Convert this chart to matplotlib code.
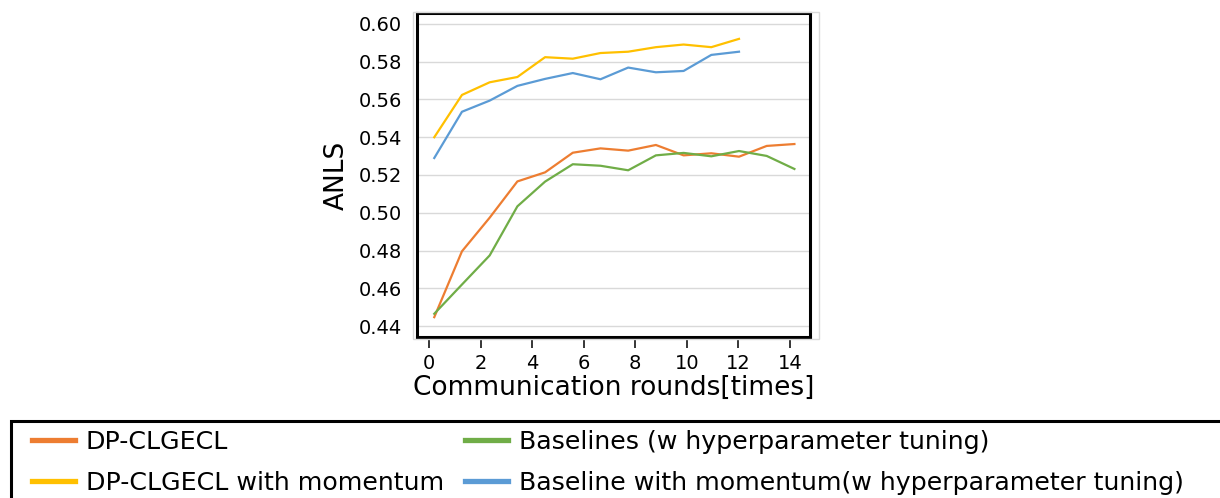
import matplotlib
matplotlib.use("Agg")
import matplotlib.pyplot as plt
from matplotlib.patches import Rectangle
from matplotlib.lines import Line2D

plt.rcParams['font.family'] = ['DejaVu Sans']

x14 = [0.2, 1.275, 2.35, 3.425, 4.5, 5.575, 6.65, 7.725, 8.8, 9.875, 10.95, 12.025, 13.1, 14.175]
x12 = x14[:12]

dp_clgecl = [0.4447, 0.4796, 0.4974, 0.5166, 0.5214, 0.5318, 0.5341, 0.5329, 0.5359, 0.5304, 0.5315, 0.5297, 0.5354, 0.5364]
baselines = [0.4465, 0.4620, 0.4774, 0.5034, 0.5165, 0.5257, 0.5249, 0.5225, 0.5304, 0.5317, 0.5299, 0.5327, 0.5301, 0.5232]
dp_clgecl_mom = [0.5400, 0.5624, 0.5691, 0.5719, 0.5824, 0.5816, 0.5846, 0.5853, 0.5877, 0.5891, 0.5877, 0.5921]
baseline_mom = [0.5290, 0.5535, 0.5594, 0.5672, 0.5709, 0.5740, 0.5707, 0.5769, 0.5744, 0.5751, 0.5836, 0.5853]

labels = ["DP-CLGECL", "DP-CLGECL with momentum",
          "Baselines (w hyperparameter tuning)",
          "Baseline with momentum(w hyperparameter tuning)"]
colors = ["#ED7D31", "#FFC000", "#70AD47", "#5B9BD5"]

yticks = [0.44, 0.46, 0.48, 0.50, 0.52, 0.54, 0.56, 0.58, 0.60]
xticks = [0, 2, 4, 6, 8, 10, 12, 14]

W, H = 1220, 498
fig = plt.figure(figsize=(W/100, H/100), dpi=100)
ax = fig.add_axes([417/W, 1-337/H, (810-417)/W, (337-13)/H])

# outer light frame
fig.patches.append(Rectangle((412.5/W, 1-338.5/H), (819-412.5)/W, (338.5-11.5)/H,
                             transform=fig.transFigure, fill=False,
                             edgecolor="#d9d9d9", linewidth=1.0, zorder=0))

ax.plot(x14, dp_clgecl, color=colors[0], lw=1.6)
ax.plot(x12, dp_clgecl_mom, color=colors[1], lw=1.6)
ax.plot(x14, baselines, color=colors[2], lw=1.6)
ax.plot(x12, baseline_mom, color=colors[3], lw=1.6)

ax.set_xlim(-0.47, 14.78)
ax.set_ylim(0.4342, 0.6058)
ax.set_yticks(yticks)
ax.set_yticklabels([f"{v:.2f}" for v in yticks])
ax.set_xticks(xticks)
ax.grid(axis='y', color="#d9d9d9", lw=1.0)
ax.set_axisbelow(True)
for s in ax.spines.values():
    s.set_linewidth(2.2)
    s.set_color("black")
ax.tick_params(axis='y', length=0, pad=11, labelsize=14)
ax.tick_params(axis='x', length=8, width=1.1, color="black", pad=4.5, labelsize=14, direction='out')
ax.set_ylabel("ANLS", fontsize=19, labelpad=6)
ax.set_xlabel("Communication rounds[times]", fontsize=19, labelpad=1)

# legend
fig.patches.append(Rectangle((10.5/W, -20/H), (1240-10.5)/W, (H+20-420.5)/H,
                             transform=fig.transFigure, fill=False,
                             edgecolor="black", linewidth=2.2, zorder=0))
handles = [Line2D([], [], color=c, lw=3.8) for c in colors]
fig.legend(handles, labels, ncol=2, loc='upper left',
           bbox_to_anchor=(32/W, 1-430/H), frameon=False, fontsize=18.2,
           handlelength=1.7, handletextpad=0.43, columnspacing=0.83,
           labelspacing=0.67, borderpad=0.0, borderaxespad=0.0)

fig.savefig("out.png", dpi=100)
